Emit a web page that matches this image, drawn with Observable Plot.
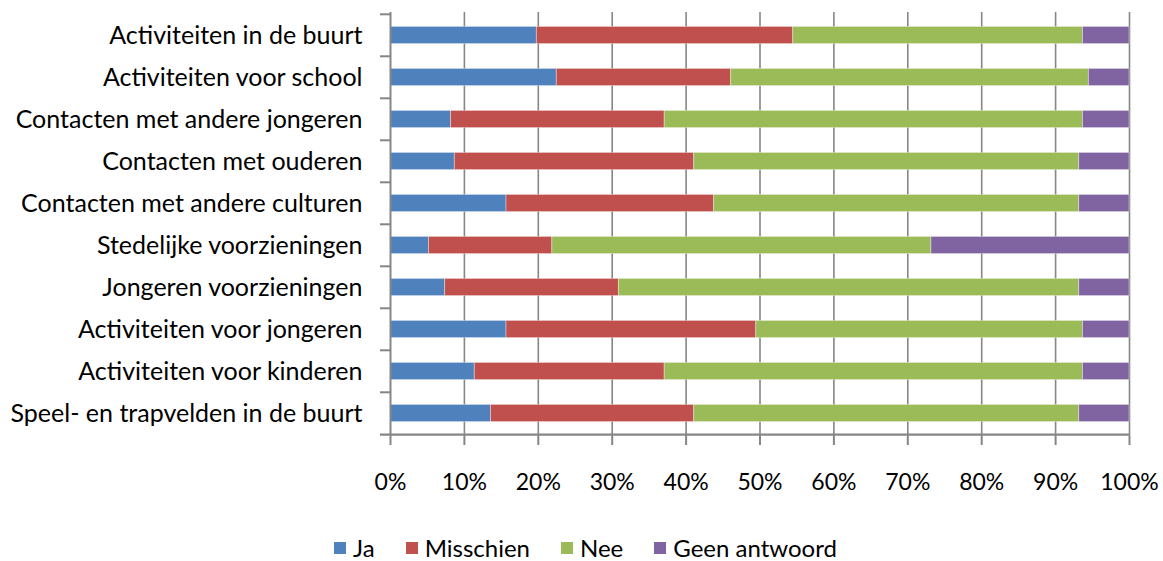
<!DOCTYPE html>
<html><head><meta charset="utf-8">
<script src="https://cdn.jsdelivr.net/npm/d3@7"></script>
<script src="https://cdn.jsdelivr.net/npm/@observablehq/plot@0.6"></script>
<style>
body{margin:0;background:#fff;font-family:Lato,sans-serif;}
#legend{margin-top:18px;padding-left:8px;}
#legend .lg-swatches-wrap{justify-content:center !important;min-height:28px !important;font:24px Lato,sans-serif !important;color:#000;}
#legend .lg-swatch{margin-right:31px !important;}
#legend .lg-swatch:last-of-type{margin-right:0 !important;}
#legend .lg-swatch svg{margin-right:7px !important;}
</style></head><body><div id="chart"></div><div id="legend"></div><script>
const categories = [
  "Activiteiten in de buurt",
  "Activiteiten voor school",
  "Contacten met andere jongeren",
  "Contacten met ouderen",
  "Contacten met andere culturen",
  "Stedelijke voorzieningen",
  "Jongeren voorzieningen",
  "Activiteiten voor jongeren",
  "Activiteiten voor kinderen",
  "Speel- en trapvelden in de buurt"
];
const series = ["Ja", "Misschien", "Nee", "Geen antwoord"];
const ja        = [19.8, 22.5,  8.2,  8.7, 15.7,  5.2,  7.4, 15.7, 11.4, 13.6];
const misschien = [34.7, 23.6, 28.9, 32.4, 28.1, 16.7, 23.5, 33.8, 25.7, 27.5];
const nee       = [39.2, 48.4, 56.6, 52.1, 49.4, 51.3, 62.3, 44.2, 56.6, 52.1];
const geen      = [ 6.3,  5.5,  6.3,  6.8,  6.8, 26.8,  6.8,  6.3,  6.3,  6.8];
const xTicks = [0, 10, 20, 30, 40, 50, 60, 70, 80, 90, 100];
const colors = ["#4F81BD", "#C0504D", "#9BBB59", "#8064A2"];

const seriesValues = [ja, misschien, nee, geen];
const data = [];
categories.forEach((c, i) => series.forEach((s, j) => data.push({category: c, series: s, value: seriesValues[j][i]})));

const W = 1163, H = 515, mTop = 12, mBottom = 79, mLeft = 390, mRight = 34;
const step = (H - mTop - mBottom) / categories.length;
const axisColor = "#868686";

const plot = Plot.plot({
  width: W, height: H,
  marginTop: mTop, marginBottom: mBottom, marginLeft: mLeft, marginRight: mRight,
  style: {fontFamily: "Lato, sans-serif", fontSize: "20px", color: "#000", background: "#fff", overflow: "visible"},
  x: {domain: [0, 100], ticks: xTicks, tickFormat: d => d + "%", label: null},
  y: {domain: categories, padding: 0, label: null},
  color: {domain: series, range: colors},
  marks: [
    Plot.ruleX(xTicks.slice(1), {stroke: axisColor, strokeWidth: 1.6}),
    Plot.barX(data, Plot.stackX({x: "value", y: "category", fill: "series", order: series,
      insetTop: 12.4, insetBottom: 12.4, stroke: "#fff", strokeOpacity: 0.45, strokeWidth: 0.8})),
    Plot.ruleX([0], {stroke: axisColor, strokeWidth: 2}),
    Plot.ruleY(categories, {y: d => d, x1: 0, x2: 0, insetLeft: -10, dy: -step / 2, stroke: axisColor, strokeWidth: 2}),
    Plot.ruleY([categories[categories.length - 1]], {y: d => d, x1: 0, x2: 100, insetLeft: -10, dy: step / 2, stroke: axisColor, strokeWidth: 2.2}),
    Plot.axisX({ticks: xTicks, tickFormat: d => d + "%", tickSize: 9, tickPadding: 28, stroke: axisColor, strokeWidth: 2, fill: "#000", fontSize: 23, label: null}),
    Plot.axisY({tickSize: 0, tickPadding: 28, fill: "#000", fontSize: 25, label: null})
  ]
});
document.getElementById("chart").appendChild(plot);
document.getElementById("legend").appendChild(plot.legend("color", {className: "lg", swatchSize: 12}));
</script></body></html>
